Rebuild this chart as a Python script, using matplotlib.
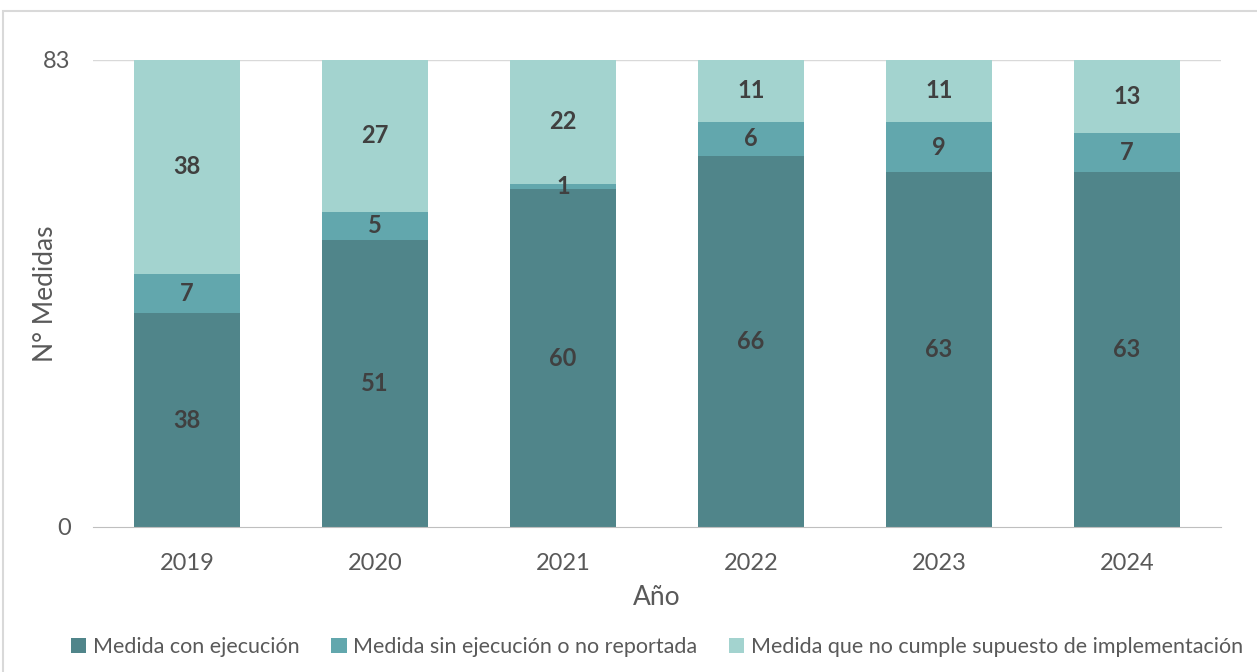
import matplotlib.pyplot as plt
import numpy as np
from matplotlib.patches import Rectangle

years = ['2019', '2020', '2021', '2022', '2023', '2024']
con_ejecucion = [38, 51, 60, 66, 63, 63]
sin_ejecucion = [7, 5, 1, 6, 9, 7]
no_cumple = [38, 27, 22, 11, 11, 13]

series = [
    ('Medida con ejecución', con_ejecucion, '#50858A'),
    ('Medida sin ejecución o no reportada', sin_ejecucion, '#62A7AD'),
    ('Medida que no cumple supuesto de implementación', no_cumple, '#A3D3CF'),
]

plt.rcParams['font.family'] = ['Lato', 'DejaVu Sans']

fig = plt.figure(figsize=(12.57, 6.72), dpi=100)
ax = fig.add_axes([0.074, 0.2158, 0.8974, 0.695])

# chart border
fig.patches.append(Rectangle((0.0025, -0.01), 1.2, 0.9936, transform=fig.transFigure,
                             fill=False, edgecolor='#D9D9D9', linewidth=1.5))

x = np.arange(len(years))
bottom = np.zeros(len(years))
for name, vals, color in series:
    bars = ax.bar(x, vals, 0.56, bottom=bottom, color=color, label=name, zorder=2)
    ax.bar_label(bars, labels=[str(v) for v in vals], label_type='center',
                 fontsize=17, fontweight='bold', color='#404040')
    bottom += np.array(vals)

ax.set_xlim(-0.5, 5.5)
ax.set_ylim(0, 83)
ax.set_yticks([0, 83])
ax.set_xticks(x)
ax.set_xticklabels(years)
ax.tick_params(length=0, labelsize=17, labelcolor='#595959')
ax.tick_params(axis='y', pad=16)
ax.tick_params(axis='x', pad=19)
ax.axhline(83, color='#D9D9D9', linewidth=1, zorder=1)
for s in ['top', 'right', 'left']:
    ax.spines[s].set_visible(False)
ax.spines['bottom'].set_color('#BFBFBF')

ax.set_ylabel('N° Medidas', fontsize=19, color='#595959')
ax.yaxis.set_label_coords(-0.031, 0.5)
ax.set_xlabel('Año', fontsize=19, color='#595959', labelpad=8)

ax.legend(loc='lower center', bbox_to_anchor=(0.5, -0.32), ncol=3, frameon=False,
          fontsize=15.5, labelcolor='#595959', handlelength=0.7, handleheight=0.7,
          handletextpad=0.3, columnspacing=1.5)

fig.savefig('out.png', dpi=100)
